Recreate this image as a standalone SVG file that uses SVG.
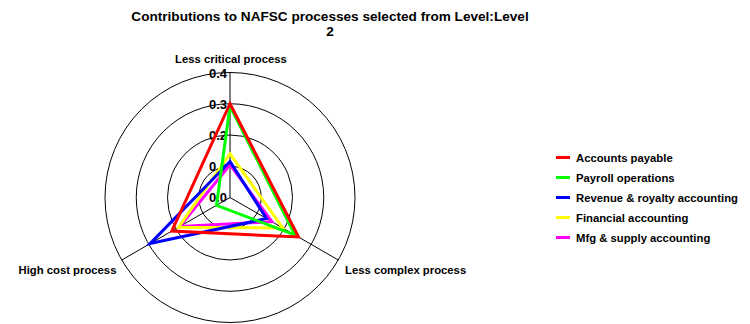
<svg xmlns="http://www.w3.org/2000/svg" width="750" height="324" viewBox="0 0 750 324">
<style>
text{font-family:"Liberation Sans",Arial,sans-serif;font-weight:bold;fill:#000}
.title{font-size:13.6px}
.lbl{font-size:11.3px}
.tick{font-size:13px;text-anchor:end}
.ring{fill:none;stroke:#000;stroke-width:1}
.axis{stroke:#000;stroke-width:1}
.s{fill:none;stroke-width:3;stroke-linejoin:miter}
.lg{stroke-width:3}
</style>
<rect width="750" height="324" fill="#fff"/>
<g id="title">
<text class="title" x="330" y="21" text-anchor="middle">Contributions to NAFSC processes selected from Level:Level</text>
<text class="title" x="330" y="35.5" text-anchor="middle">2</text>
</g>
<g id="grid">
<circle class="ring" cx="230" cy="197.5" r="31.25"/>
<circle class="ring" cx="230" cy="197.5" r="62.5"/>
<circle class="ring" cx="230" cy="197.5" r="93.75"/>
<circle class="ring" cx="230" cy="197.5" r="125"/>
<line class="axis" x1="230" y1="197.5" x2="230" y2="72.5"/>
<line class="axis" x1="230" y1="197.5" x2="338.25" y2="260"/>
<line class="axis" x1="230" y1="197.5" x2="121.75" y2="260"/>
</g>
<g id="ticks">
<text class="tick" x="227" y="77.5">0.4</text>
<text class="tick" x="227" y="108.5">0.3</text>
<text class="tick" x="227" y="139.8">0.2</text>
<text class="tick" x="227" y="171">0.1</text>
<text class="tick" x="227" y="202.2">0.0</text>
</g>
<g id="axis-labels">
<text class="lbl" x="231" y="63" text-anchor="middle">Less critical process</text>
<text class="lbl" x="18.5" y="274">High cost process</text>
<text class="lbl" x="345" y="274">Less complex process</text>
</g>
<g id="series">
<polygon id="s-mfg" class="s" stroke="#ff00ff" points="230,164.69 271.95,221.72 179.93,226.41"/>
<polygon id="s-financial" class="s" stroke="#ffff00" points="230,153.75 282.77,227.97 178.58,227.19"/>
<polygon id="s-revenue" class="s" stroke="#0000ff" points="230,161.56 266.54,218.59 150.16,243.59"/>
<polygon id="s-payroll" class="s" stroke="#00ff00" points="230,106 294.95,235 216.47,205.31"/>
<polygon id="s-accounts-payable" class="s" stroke="#ff0000" points="230,103.75 298.5,237 171.81,231.09"/>
</g>
<g id="legend">
<line class="lg" x1="556" y1="157.5" x2="570" y2="157.5" stroke="#ff0000"/>
<text class="lbl" x="576" y="161.5">Accounts payable</text>
<line class="lg" x1="556" y1="177.5" x2="570" y2="177.5" stroke="#00ff00"/>
<text class="lbl" x="576" y="181.5">Payroll operations</text>
<line class="lg" x1="556" y1="197.5" x2="570" y2="197.5" stroke="#0000ff"/>
<text class="lbl" x="576" y="201.5">Revenue &amp; royalty accounting</text>
<line class="lg" x1="556" y1="217.5" x2="570" y2="217.5" stroke="#ffff00"/>
<text class="lbl" x="576" y="221.5">Financial accounting</text>
<line class="lg" x1="556" y1="237.5" x2="570" y2="237.5" stroke="#ff00ff"/>
<text class="lbl" x="576" y="241.5">Mfg &amp; supply accounting</text>
</g>
</svg>
